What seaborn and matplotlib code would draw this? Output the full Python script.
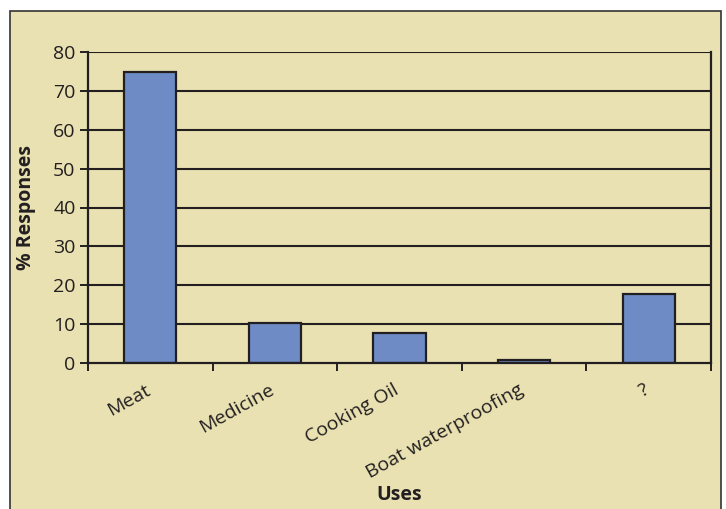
import matplotlib
matplotlib.use("Agg")
import matplotlib.pyplot as plt
import matplotlib.transforms as mtransforms
import seaborn as sns
import pandas as pd
from matplotlib.patches import Rectangle

# data
uses = ["Meat", "Medicine", "Cooking Oil", "Boat waterproofing", "?"]
responses = [74.8, 10.3, 7.8, 0.8, 17.7]
yticks = [0, 10, 20, 30, 40, 50, 60, 70, 80]

df = pd.DataFrame({"use": uses, "pct": responses})

bg = "#E9E1B1"
bar_color = "#6E8BC6"
line_color = "#231F20"

sns.set_style("white")
plt.rcParams["font.family"] = ["Open Sans", "DejaVu Sans"]

fig = plt.figure(figsize=(7.26, 5.09), dpi=100)
fig.patch.set_facecolor("white")
# beige panel with a thin border, kept behind the axes
fig.patches.append(Rectangle((10 / 726, -0.05), 711 / 726, 1 - 11 / 509 + 0.05,
                             transform=fig.transFigure, facecolor=bg,
                             edgecolor="#333333", linewidth=1.2, zorder=-10))

ax = fig.add_axes([88 / 726, 1 - 363 / 509, 623 / 726, 311 / 509])
ax.set_facecolor(bg)

sns.barplot(data=df, x="use", y="pct", color=bar_color, width=0.42,
            edgecolor=line_color, linewidth=1.6, saturation=1, ax=ax, zorder=3)

ax.set_ylim(0, 80)
ax.set_xlim(-0.5, len(uses) - 0.5)
ax.set_yticks(yticks)
for y in yticks[1:]:
    ax.axhline(y, color=line_color, linewidth=1.5, zorder=1)

ax.spines["top"].set_visible(False)
for side in ["left", "right", "bottom"]:
    ax.spines[side].set_color(line_color)
    ax.spines[side].set_linewidth(1.6)
    ax.spines[side].set_zorder(4)

ax.tick_params(axis="y", direction="out", length=6, width=1.4, color=line_color,
               labelsize=14, labelcolor=line_color, pad=3, left=True)
ax.set_xticks(range(len(uses)))
ax.set_xticks([i - 0.5 for i in range(len(uses) + 1)], minor=True)
ax.tick_params(axis="x", which="major", length=0, pad=13)
ax.tick_params(axis="x", which="minor", direction="out", length=6, width=1.4,
               color=line_color, bottom=True)
ax.set_xticklabels(uses, rotation=29, ha="right", rotation_mode="anchor",
                   fontsize=14, color=line_color)
shift = mtransforms.ScaledTranslation(-6 / 100, 0, fig.dpi_scale_trans)
for lab in ax.get_xticklabels():
    lab.set_transform(lab.get_transform() + shift)

ax.set_xlabel("")
ax.set_ylabel("% Responses", fontsize=14, fontweight="bold", color=line_color,
              labelpad=12)
fig.text(399 / 726, 1 - 495 / 509, "Uses", ha="center", va="center",
         fontsize=14, fontweight="bold", color=line_color)

fig.savefig("out.png", dpi=100, facecolor=fig.get_facecolor())
